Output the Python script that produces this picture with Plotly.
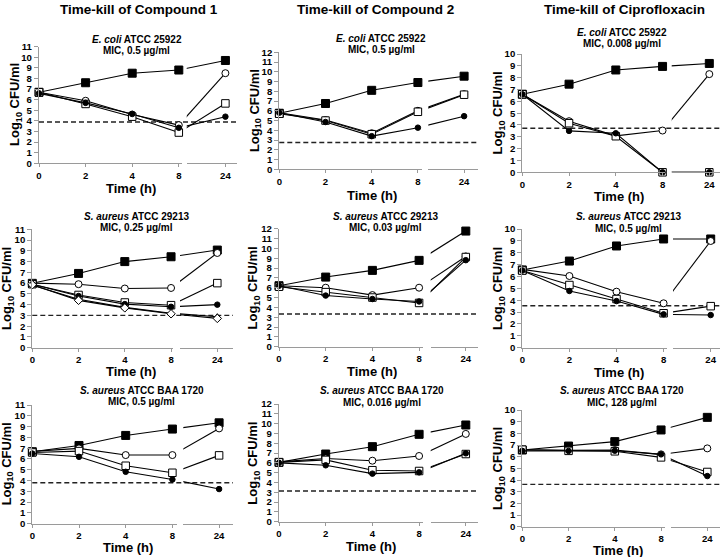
import plotly.graph_objects as go

W, H = 721, 557

# ---------------- data ----------------
TIME_LABELS = ["0", "2", "4", "8", "24"]

COL_TITLES = ["Time-kill of Compound 1", "Time-kill of Compound 2", "Time-kill of Ciprofloxacin"]
STRAINS = ["<i>E. coli</i> ATCC 25922", "<i>S. aureus</i> ATCC 29213", "<i>S. aureus</i> ATCC BAA 1720"]
MICS = [["0.5 µg/ml", "0.5 µg/ml", "0.008 µg/ml"],
        ["0.25 µg/ml", "0.03 µg/ml", "0.5 µg/ml"],
        ["0.5 µg/ml", "0.016 µg/ml", "128 µg/ml"]]
Y_MAX = [[11, 12, 10], [11, 12, 10], [11, 12, 10]]
LOD = [[3.9, 2.75, 3.72], [3.0, 3.32, 3.54], [3.8, 3.13, 3.63]]

# E. coli ATCC 25922
p11_ctrl = [6.7, 7.6, 8.5, 8.8, 9.7]
p11_ocirc = [6.7, 5.9, 4.6, 3.6, 8.5]
p11_osq = [6.7, 5.6, 4.4, 2.9, 5.65]
p11_fcirc = [6.6, 5.7, 4.65, 3.35, 4.4]

p12_ctrl = [5.75, 6.75, 8.1, 8.9, 9.55]
p12_ocirc = [5.8, 5.05, 3.7, 6.0, 7.7]
p12_osq = [5.7, 5.0, 3.6, 5.9, 7.65]
p12_fcirc = [5.8, 4.85, 3.4, 4.27, 5.45]

p13_ctrl = [6.6, 7.45, 8.65, 8.95, 9.2]
p13_ocirc = [6.6, 4.32, 3.08, 3.53, 8.3]
p13_osq = [6.6, 4.15, 3.05, 0.0, 0.0]
p13_fcirc = [6.6, 3.5, 3.3, 0.0, 0.0]

# S. aureus ATCC 29213
p21_ctrl = [5.98, 6.9, 8.0, 8.45, 9.07]
p21_ocirc = [6.0, 5.9, 5.5, 5.55, 8.8]
p21_osq = [5.9, 4.9, 4.2, 3.95, 6.0]
p21_fcirc = [5.9, 4.8, 4.05, 3.8, 4.0]
p21_otri = [5.8, 4.5, 3.75, 3.2, 2.88]
p21_odia = [5.85, 4.4, 3.7, 3.15, 2.72]

p22_ctrl = [6.2, 7.08, 7.76, 8.78, 11.76]
p22_ocirc = [6.2, 6.0, 5.25, 6.0, 9.18]
p22_osq = [6.1, 5.55, 5.0, 4.45, 9.12]
p22_fcirc = [6.2, 5.2, 4.85, 4.6, 8.8]

p23_ctrl = [6.55, 7.3, 8.57, 9.16, 9.16]
p23_ocirc = [6.6, 6.04, 4.72, 3.74, 8.99]
p23_osq = [6.5, 5.28, 4.1, 2.9, 3.5]
p23_fcirc = [6.5, 4.78, 3.93, 2.81, 2.75]

# S. aureus ATCC BAA 1720
p31_ctrl = [6.67, 7.25, 8.18, 8.77, 9.35]
p31_ocirc = [6.7, 6.98, 6.36, 6.36, 8.83]
p31_osq = [6.6, 6.73, 5.37, 4.72, 6.33]
p31_fcirc = [6.5, 6.2, 4.81, 4.1, 3.21]

p32_ctrl = [6.05, 6.9, 7.65, 8.91, 9.86]
p32_ocirc = [6.1, 6.45, 6.22, 6.7, 8.95]
p32_osq = [6.05, 6.3, 5.25, 5.17, 6.9]
p32_fcirc = [6.0, 5.75, 4.9, 5.03, 6.97]

p33_ctrl = [6.57, 6.91, 7.29, 8.29, 9.37]
p33_ocirc = [6.6, 6.55, 6.57, 6.2, 6.71]
p33_osq = [6.6, 6.5, 6.46, 5.94, 4.69]
p33_fcirc = [6.5, 6.49, 6.51, 6.2, 4.34]

PANELS = [
    [("ctrl", p11_ctrl), ("ocirc", p11_ocirc), ("osq", p11_osq), ("fcirc", p11_fcirc)],
    [("ctrl", p12_ctrl), ("ocirc", p12_ocirc), ("osq", p12_osq), ("fcirc", p12_fcirc)],
    [("ctrl", p13_ctrl), ("ocirc", p13_ocirc), ("osq", p13_osq), ("fcirc", p13_fcirc)],
    [("ctrl", p21_ctrl), ("ocirc", p21_ocirc), ("osq", p21_osq), ("fcirc", p21_fcirc),
     ("otri", p21_otri), ("odia", p21_odia)],
    [("ctrl", p22_ctrl), ("ocirc", p22_ocirc), ("osq", p22_osq), ("fcirc", p22_fcirc)],
    [("ctrl", p23_ctrl), ("ocirc", p23_ocirc), ("osq", p23_osq), ("fcirc", p23_fcirc)],
    [("ctrl", p31_ctrl), ("ocirc", p31_ocirc), ("osq", p31_osq), ("fcirc", p31_fcirc)],
    [("ctrl", p32_ctrl), ("ocirc", p32_ocirc), ("osq", p32_osq), ("fcirc", p32_fcirc)],
    [("ctrl", p33_ctrl), ("ocirc", p33_ocirc), ("osq", p33_osq), ("fcirc", p33_fcirc)],
]

# ---------------- styles / layout ----------------
MARKERS = {
    "ctrl": dict(symbol="square", size=8, color="black", line=dict(color="black", width=1)),
    "ocirc": dict(symbol="circle", size=7, color="white", line=dict(color="black", width=1)),
    "osq": dict(symbol="square", size=7.5, color="white", line=dict(color="black", width=1)),
    "fcirc": dict(symbol="circle", size=5.5, color="black", line=dict(color="black", width=1)),
    "otri": dict(symbol="triangle-up", size=6, color="white", line=dict(color="black", width=1)),
    "odia": dict(symbol="diamond", size=6.5, color="white", line=dict(color="black", width=1)),
}

# pixel geometry of each panel
GEOM = [
    dict(x0=39, step=46.6, le=181.7, rs=186.7, re=236.7, y0=163.3, yt=46.7, t1=39.2, t2=50.2, tx=136.7, ytx=15, xtx=131, xty=188.5, de=236.7),
    dict(x0=279.3, step=46.2, le=421.7, rs=428.3, re=478, y0=169.3, yt=52.3, t1=38.3, t2=49.3, tx=381, ytx=255.3, xtx=371.7, xty=195.5, de=477),
    dict(x0=522.3, step=46.75, le=665, rs=671.7, re=720, y0=172.3, yt=54, t1=32.3, t2=43.5, tx=621.7, ytx=498.3, xtx=619, xty=196, de=720),
    dict(x0=32.3, step=46.25, le=173.3, rs=180, re=233, y0=347.7, yt=229.3, t1=216.7, t2=227.9, tx=136.7, ytx=7.5, xtx=131.3, xty=371.5, de=233),
    dict(x0=279, step=46.7, le=422.7, rs=430.7, re=478, y0=346.7, yt=228.7, t1=216.7, t2=227.9, tx=385, ytx=253.8, xtx=371.7, xty=371.5, de=479),
    dict(x0=522.3, step=47.1, le=666.7, rs=673, re=720, y0=347.7, yt=229, t1=216.7, t2=228.3, tx=628, ytx=498.7, xtx=618.8, xty=372, de=720),
    dict(x0=32.3, step=46.7, le=176.7, rs=183.3, re=233, y0=523.7, yt=405, t1=390, t2=401.7, tx=141.7, ytx=7, xtx=127.5, xty=547.5, de=233),
    dict(x0=279, step=46.7, le=422.7, rs=430.7, re=478, y0=521.7, yt=404, t1=390.7, t2=402.3, tx=381.7, ytx=253.8, xtx=371.2, xty=546.5, de=478),
    dict(x0=522.3, step=46.25, le=665, rs=670.7, re=720, y0=526.7, yt=410, t1=390.7, t2=402.3, tx=621.7, ytx=498.7, xtx=617.5, xty=550.3, de=720),
]

FONT = "Liberation Sans, Arial, sans-serif"
AXIS_GRAY = "#9a9a9a"
TICKFONT = dict(family=FONT, size=9.6, color="black", weight="bold")

fig = go.Figure()
layout = dict(
    width=W, height=H, autosize=False,
    margin=dict(l=0, r=0, t=0, b=0, pad=0),
    paper_bgcolor="white", plot_bgcolor="white",
    showlegend=False,
    annotations=[], shapes=[],
    font=dict(family=FONT, color="black"),
)


def px(x):
    return x / W


def py(y):
    return 1 - y / H


for k, (series, g) in enumerate(zip(PANELS, GEOM), start=1):
    r, c = divmod(k - 1, 3)
    xl, xr, yy = 2 * k - 1, 2 * k, k
    xl_id = "x" if xl == 1 else f"x{xl}"
    xr_id = f"x{xr}"
    y_id = "y" if yy == 1 else f"y{yy}"
    xl_key = "xaxis" if xl == 1 else f"xaxis{xl}"
    xr_key = f"xaxis{xr}"
    y_key = "yaxis" if yy == 1 else f"yaxis{yy}"

    common_x = dict(
        type="category", categoryorder="array", categoryarray=TIME_LABELS,
        showline=True, linecolor=AXIS_GRAY, linewidth=1.3,
        ticks="outside", ticklen=3, tickwidth=1, tickcolor=AXIS_GRAY,
        showgrid=False, zeroline=False, tickfont=TICKFONT, anchor=y_id,
        fixedrange=True, automargin=False,
    )
    layout[xl_key] = dict(common_x, domain=[px(g["x0"]), px(g["le"])],
                          range=[0, (g["le"] - g["x0"]) / g["step"]])
    layout[xr_key] = dict(common_x, domain=[px(g["rs"]), px(g["re"])],
                          range=[(g["rs"] - g["x0"]) / g["step"], (g["re"] - g["x0"]) / g["step"]])
    layout[y_key] = dict(
        domain=[py(g["y0"]), py(g["yt"])], range=[0, Y_MAX[r][c]], dtick=1,
        showline=True, linecolor=AXIS_GRAY, linewidth=1.3,
        ticks="outside", ticklen=4, tickwidth=1, tickcolor=AXIS_GRAY,
        showgrid=False, zeroline=False, tickfont=TICKFONT, anchor=xl_id,
        fixedrange=True, automargin=False,
    )

    # detection-limit dashed line
    layout["shapes"].append(dict(
        type="line", xref="paper", yref=y_id,
        x0=px(g["x0"]), x1=px(g["de"]), y0=LOD[r][c], y1=LOD[r][c],
        line=dict(color="#222222", width=1.4, dash="5px,3px"), layer="below",
    ))

    for name, vals in series:
        mk = MARKERS[name]
        # left part: 0-8 h
        fig.add_trace(go.Scatter(x=TIME_LABELS[:4], y=vals[:4], mode="lines",
                                 line=dict(color="black", width=1.1),
                                 xaxis=xl_id, yaxis=y_id, hoverinfo="skip"))
        fig.add_trace(go.Scatter(x=TIME_LABELS[:4], y=vals[:4], mode="markers",
                                 marker=mk, cliponaxis=False,
                                 xaxis=xl_id, yaxis=y_id, name=name))
        # right part: 8 -> 24 h (clipped at the axis break)
        fig.add_trace(go.Scatter(x=TIME_LABELS[3:], y=vals[3:], mode="lines",
                                 line=dict(color="black", width=1.1),
                                 xaxis=xr_id, yaxis=y_id, hoverinfo="skip"))
        fig.add_trace(go.Scatter(x=TIME_LABELS[4:], y=vals[4:], mode="markers",
                                 marker=mk, cliponaxis=False,
                                 xaxis=xr_id, yaxis=y_id, name=name))

    # panel titles
    layout["annotations"].append(dict(
        text=f"<b>{STRAINS[r]}</b>", x=px(g["tx"]), y=py(g["t1"]), xref="paper", yref="paper",
        xanchor="center", yanchor="middle", showarrow=False,
        font=dict(family=FONT, size=10, color="black")))
    layout["annotations"].append(dict(
        text=f"<b>MIC, {MICS[r][c]}</b>", x=px(g["tx"]), y=py(g["t2"]), xref="paper", yref="paper",
        xanchor="center", yanchor="middle", showarrow=False,
        font=dict(family=FONT, size=10, color="black")))
    # axis titles
    layout["annotations"].append(dict(
        text="<b>Log<sub>10</sub> CFU/ml</b>", x=px(g["ytx"]), y=py((g["y0"] + g["yt"]) / 2),
        xref="paper", yref="paper", xanchor="center", yanchor="middle", textangle=-90,
        showarrow=False, font=dict(family=FONT, size=13, color="black")))
    layout["annotations"].append(dict(
        text="<b>Time (h)</b>", x=px(g["xtx"]), y=py(g["xty"]),
        xref="paper", yref="paper", xanchor="center", yanchor="middle",
        showarrow=False, font=dict(family=FONT, size=13, color="black")))

# column titles
for cx, t in zip([139, 375, 624], COL_TITLES):
    layout["annotations"].append(dict(
        text=f"<b>{t}</b>", x=px(cx), y=py(10), xref="paper", yref="paper",
        xanchor="center", yanchor="middle", showarrow=False,
        font=dict(family=FONT, size=13.5, color="black")))

fig.update_layout(**layout)
fig.write_html(
    "out.html",
    config={"displayModeBar": False},
    post_script="document.body.style.margin='0';document.body.style.overflow='hidden';",
)
